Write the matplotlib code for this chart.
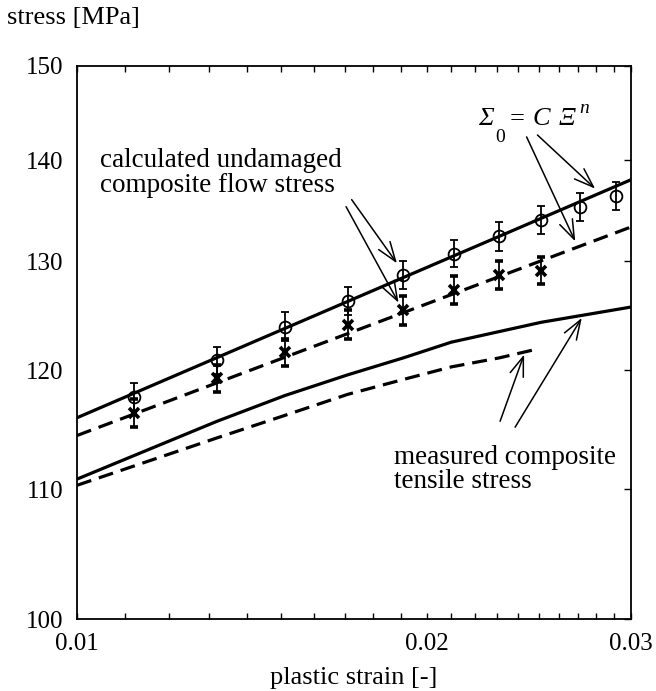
import matplotlib
matplotlib.use("Agg")
from matplotlib import pyplot as plt
from matplotlib.ticker import FixedLocator, NullLocator, NullFormatter
from matplotlib.transforms import offset_copy

plt.rcParams["font.family"] = ["Liberation Serif", "DejaVu Serif"]

# plastic strain at the calculated points
strain_pts = [0.0112, 0.0132, 0.0151, 0.0171, 0.0191, 0.0211, 0.0231, 0.0251, 0.0271, 0.0291]
# calculated undamaged composite flow stress (circles) and its scatter
stress_circ = [117.7, 120.9, 123.9, 126.3, 128.7, 130.7, 132.4, 134.0, 135.3, 136.4]
err_circ = [1.2, 1.2, 1.3, 1.3, 1.3, 1.3, 1.4, 1.4, 1.4, 1.4]
# second set (crosses), only up to 0.025
stress_cross = [116.3, 119.3, 121.6, 124.1, 125.4, 127.3, 128.7, 129.1]
err_cross = [1.2, 1.2, 1.2, 1.3, 1.3, 1.3, 1.3, 1.3]

# power law fits Sigma_0 = C Xi^n (straight in log-log)
fit_strain = [0.01, 0.03]
fit_circ = [115.9, 138.0]
fit_cross = [114.4, 133.3]

# measured composite tensile stress
meas_strain = [0.01, 0.0132, 0.0151, 0.0171, 0.0191, 0.021, 0.0251, 0.03]
meas_solid = [110.8, 115.6, 117.8, 119.6, 121.1, 122.5, 124.3, 125.7]
meas2_strain = [0.01, 0.0132, 0.0151, 0.0171, 0.0191, 0.021, 0.0231, 0.0247]
meas_dashed = [110.3, 114.2, 116.1, 117.9, 119.2, 120.3, 121.1, 121.8]

yticks = [100, 110, 120, 130, 140, 150]
xticks = [0.01, 0.02, 0.03]
xtick_labels = ["0.01", "0.02", "0.03"]

fig = plt.figure(figsize=(6.56, 6.91), dpi=100)
ax = fig.add_axes([77 / 656, 1 - 619 / 691, 554 / 656, 553 / 691])
ax.set_xscale("log")
ax.set_yscale("log")

lw = 2.3
dash = (4.7, 2.5)
ax.plot(fit_strain, fit_circ, color="black", lw=lw, solid_capstyle="butt")
ax.plot(fit_strain, fit_cross, color="black", lw=lw, dashes=dash, dash_capstyle="butt")
ax.plot(meas_strain, meas_solid, color="black", lw=lw, solid_capstyle="butt")
ax.plot(meas2_strain, meas_dashed, color="black", lw=lw, dashes=dash, dash_capstyle="butt")

ax.errorbar(strain_pts, stress_circ, yerr=err_circ, fmt="o", ms=8.5, mfc="none",
            mec="black", mew=1.3, ecolor="black", elinewidth=1.3, capsize=3.2,
            capthick=1.3)
ax.errorbar(strain_pts[:len(stress_cross)], stress_cross, yerr=err_cross, fmt="x",
            ms=6.5, mec="black", mew=2.6, ecolor="black", elinewidth=1.3,
            capsize=3.2, capthick=1.3)

ax.set_xlim(0.01, 0.03)
ax.set_ylim(100, 150)

ax.xaxis.set_major_locator(FixedLocator(xticks))
ax.xaxis.set_major_formatter(plt.FixedFormatter(xtick_labels))
ax.xaxis.set_minor_locator(FixedLocator([i / 1000 for i in range(11, 30)]))
ax.xaxis.set_minor_formatter(NullFormatter())
ax.yaxis.set_major_locator(FixedLocator(yticks))
ax.yaxis.set_major_formatter(plt.FixedFormatter([str(v) for v in yticks]))
ax.yaxis.set_minor_locator(NullLocator())

ax.tick_params(axis="x", which="both", direction="in", top=True, bottom=True,
               length=4, width=1, labelsize=18, pad=10)
ax.tick_params(axis="y", which="both", direction="in", left=False, right=True,
               length=5, width=1, labelsize=18, pad=10)
for s in ax.spines.values():
    s.set_linewidth(1.3)

ax.set_xlabel("plastic strain [-]", fontsize=19, labelpad=9)
fig.text(7 / 656, 1 - 18 / 691, "stress [MPa]", fontsize=19, va="center", ha="left")

# labels and arrows
ax.text(0.01047, 141.2, "calculated undamaged\ncomposite flow stress", fontsize=19.5,
        va="top", ha="left", linespacing=0.95)
ax.text(0.01875, 113.6, "measured composite\ntensile stress", fontsize=19.5,
        va="top", ha="left", linespacing=0.95)

# Sigma_0 = C Xi^n, set piece by piece so the capitals come out italic
eq_anchor = (0.02215, 143.7)
eq_parts = [
    ("Σ", 0, 0, 19, "italic"),
    ("0", 17, -17, 14, "normal"),
    ("=", 32, 0, 19, "normal"),
    ("C", 55, 0, 19, "italic"),
    ("Ξ", 81, 0, 19, "italic"),
    ("n", 101, 12, 14, "italic"),
]
for s, dx, dy, size, style in eq_parts:
    tr = offset_copy(ax.transData, fig=fig, x=dx, y=dy, units="dots")
    ax.text(*eq_anchor, s, transform=tr, fontsize=size, fontstyle=style,
            va="baseline", ha="left")

arrow = dict(arrowstyle="->,head_length=0.7,head_width=0.25", lw=1.1,
             color="black", shrinkA=0, shrinkB=0, mutation_scale=20)
arrows = [
    ((0.01724, 136.0), (0.01886, 129.8)),
    ((0.01705, 135.3), (0.01892, 126.1)),
    ((0.02439, 142.4), (0.02686, 131.9)),
    ((0.02492, 142.6), (0.02794, 137.1)),
    ((0.02314, 115.6), (0.02427, 121.4)),
    ((0.02384, 115.1), (0.02721, 124.7)),
]
for start, tip in arrows:
    ax.annotate("", xy=tip, xytext=start, arrowprops=arrow)

fig.savefig("out.png", dpi=100)
